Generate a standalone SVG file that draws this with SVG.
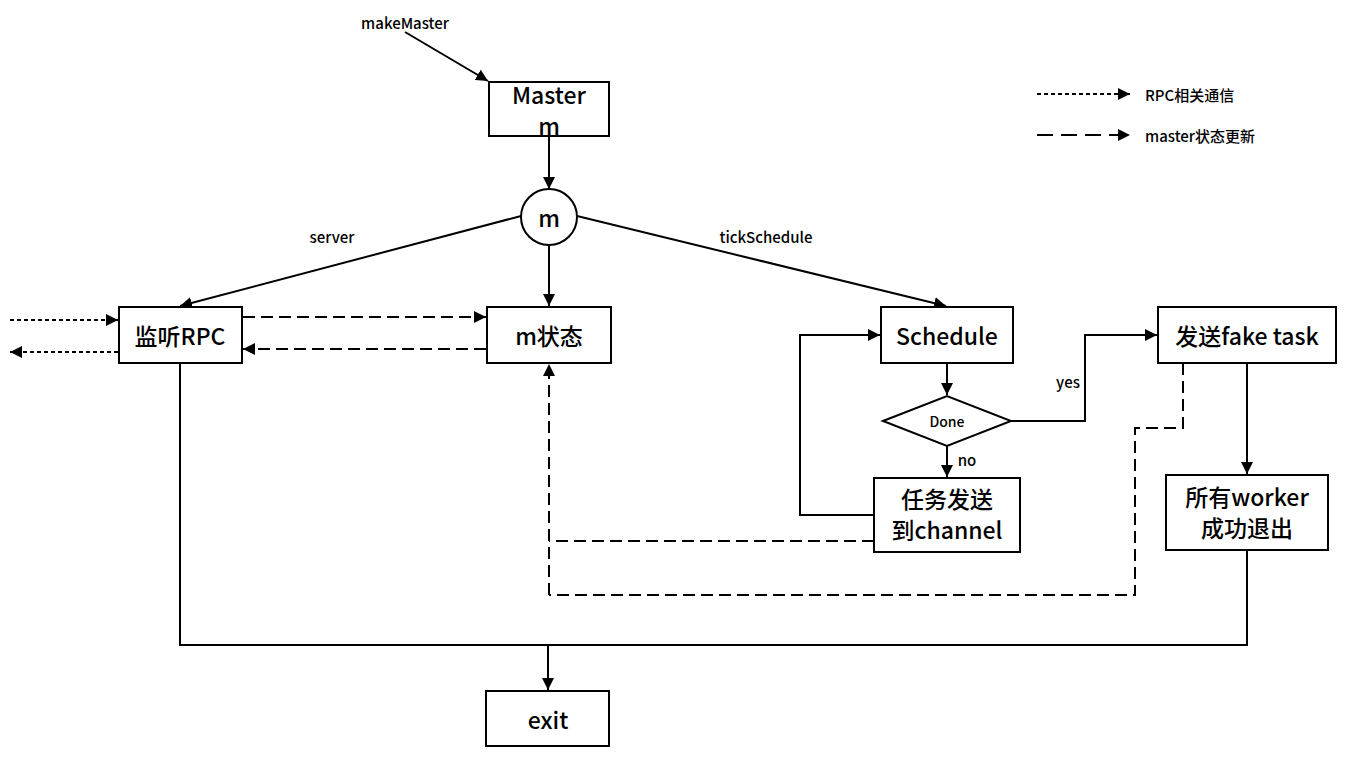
<svg xmlns="http://www.w3.org/2000/svg" width="1354" height="760" viewBox="0 0 1354 760">
<style>
.box{fill:#fff;stroke:#000;stroke-width:2}
.t{font-family:"Noto Sans CJK SC","Noto Sans",sans-serif;font-size:23px;font-weight:500;text-anchor:middle;dominant-baseline:central;fill:#000}
.s{font-family:"Noto Sans CJK SC","Noto Sans",sans-serif;font-size:15px;font-weight:500;text-anchor:middle;dominant-baseline:central;fill:#000}
.ln{fill:none;stroke:#000;stroke-width:2}
.dash{fill:none;stroke:#000;stroke-width:2;stroke-dasharray:12 6}
.dot{fill:none;stroke:#000;stroke-width:2;stroke-dasharray:4 3}
</style>
<defs>
<marker id="ah" viewBox="0 0 10 10" refX="10" refY="5" markerWidth="6" markerHeight="6" orient="auto" markerUnits="strokeWidth">
<path d="M0,0 L10,5 L0,10 z" fill="#000"/>
</marker>
</defs>
<rect width="1354" height="760" fill="#fff"/>
<g id="connectors">
<line class="ln" x1="405" y1="32" x2="488" y2="81" marker-end="url(#ah)"/>
<line class="ln" x1="549" y1="136" x2="549" y2="189" marker-end="url(#ah)"/>
<line class="ln" x1="521" y1="216" x2="180" y2="306" marker-end="url(#ah)"/>
<line class="ln" x1="549" y1="245" x2="549" y2="306" marker-end="url(#ah)"/>
<line class="ln" x1="577" y1="216" x2="946" y2="306" marker-end="url(#ah)"/>
<line class="dot" x1="10" y1="320" x2="118" y2="320" marker-end="url(#ah)"/>
<line class="dot" x1="118" y1="352" x2="10" y2="352" marker-end="url(#ah)"/>
<line class="dash" x1="243" y1="317" x2="486" y2="317" marker-end="url(#ah)"/>
<line class="dash" x1="486" y1="349" x2="243" y2="349" marker-end="url(#ah)"/>
<line class="ln" x1="947" y1="363" x2="947" y2="395" marker-end="url(#ah)"/>
<line class="ln" x1="947" y1="446" x2="947" y2="477" marker-end="url(#ah)"/>
<polyline class="ln" points="1011,421 1085,421 1085,335 1157,335" marker-end="url(#ah)"/>
<polyline class="ln" points="874,515 800,515 800,335 880,335" marker-end="url(#ah)"/>
<line class="ln" x1="1247" y1="363" x2="1247" y2="474" marker-end="url(#ah)"/>
<line class="dash" x1="874" y1="541" x2="549" y2="541"/>
<polyline class="dash" points="1183,363 1183,428 1135,428 1135,595 549,595"/>
<line class="dash" x1="549" y1="595" x2="549" y2="364" marker-end="url(#ah)"/>
<polyline class="ln" points="180,363 180,645 1247,645 1247,550"/>
<line class="ln" x1="548" y1="645" x2="548" y2="690" marker-end="url(#ah)"/>
<line class="dot" x1="1037" y1="94" x2="1130" y2="94" marker-end="url(#ah)"/>
<line class="dash" x1="1037" y1="135" x2="1130" y2="135" style="stroke-dasharray:16 8" marker-end="url(#ah)"/>
</g>
<g id="labels">
<text class="s" x="405" y="22">makeMaster</text>
<text class="s" x="332" y="236">server</text>
<text class="s" x="766" y="236">tickSchedule</text>
<text class="s" x="1068" y="381">yes</text>
<text class="s" x="967" y="459">no</text>
<text class="s" x="1145" y="94" style="text-anchor:start">RPC相关通信</text>
<text class="s" x="1145" y="135" style="text-anchor:start">master状态更新</text>
</g>
<g id="master"><rect class="box" x="489" y="82" width="120" height="54"/><text class="t" x="549" y="94">Master<tspan x="549" dy="31">m</tspan></text></g>
<g id="m"><circle class="box" cx="549" cy="217" r="28"/><text class="t" x="549" y="217">m</text></g>
<g id="rpc"><rect class="box" x="119" y="307" width="123" height="56"/><text class="t" x="180" y="335">监听RPC</text></g>
<g id="mstate"><rect class="box" x="487" y="307" width="124" height="56"/><text class="t" x="549" y="335">m状态</text></g>
<g id="schedule"><rect class="box" x="881" y="307" width="132" height="56"/><text class="t" x="947" y="335">Schedule</text></g>
<g id="done"><polygon class="box" points="883,421 947,396 1011,421 947,446"/><text class="s" x="947" y="421" style="font-size:14px">Done</text></g>
<g id="send"><rect class="box" x="874" y="478" width="146" height="74"/><text class="t" x="947" y="498">任务发送<tspan x="947" dy="31">到channel</tspan></text></g>
<g id="fake"><rect class="box" x="1158" y="307" width="178" height="56"/><text class="t" x="1247" y="335">发送fake task</text></g>
<g id="workers"><rect class="box" x="1166" y="475" width="162" height="75"/><text class="t" x="1247" y="496">所有worker<tspan x="1247" dy="31">成功退出</tspan></text></g>
<g id="exit"><rect class="box" x="486" y="691" width="123" height="55"/><text class="t" x="548" y="719">exit</text></g>
</svg>
